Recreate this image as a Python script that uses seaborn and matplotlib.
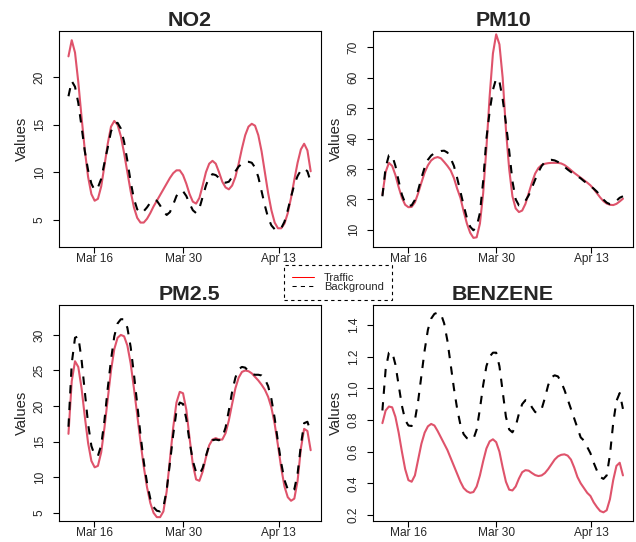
from matplotlib import pyplot as plt
from matplotlib.lines import Line2D
from matplotlib.ticker import FormatStrFormatter
import pandas as pd
import seaborn as sns
import numpy as np

# days since start of March, sampled every half day (Mar 12 .. Apr 18)
days = np.arange(12, 49.01, 0.5)

tick_pos = [15.95, 29.55, 44.15]
tick_labels = ['Mar 16', 'Mar 30', 'Apr 13']

no2_traffic = [
    22.2, 23.9, 22.6, 19.5, 15.8, 12.3, 9.5, 7.7, 7.0, 7.2,
    8.5, 10.7, 13.0, 14.8, 15.4, 15.0, 13.8, 12.0, 10.0, 8.0,
    6.3, 5.2, 4.7, 4.7, 5.1, 5.7, 6.4, 7.0, 7.6, 8.2,
    8.8, 9.4, 9.9, 10.2, 10.2, 9.7, 8.8, 7.7, 6.9, 6.7,
    7.3, 8.6, 10.0, 10.9, 11.2, 10.9, 10.0, 9.0, 8.4, 8.2,
    8.6, 9.5, 10.9, 12.5, 13.9, 14.8, 15.1, 14.9, 13.9, 12.2,
    10.0, 7.8, 6.0, 4.7, 4.1, 4.1, 4.6, 5.7, 7.3, 9.2,
    11.0, 12.4, 13.0, 12.3, 10.1]
no2_background = [
    18.0, 19.6, 19.0, 17.3, 14.8, 12.2, 10.2, 8.8, 8.1, 8.4,
    9.3, 11.0, 12.6, 14.3, 15.1, 15.2, 14.6, 13.2, 11.2, 9.0,
    7.2, 6.1, 5.7, 5.9, 6.3, 6.8, 7.1, 7.0, 6.5, 5.9,
    5.5, 5.8, 6.6, 7.5, 8.0, 8.0, 7.5, 6.7, 6.0, 5.7,
    6.2, 7.4, 8.6, 9.5, 9.8, 9.7, 9.4, 9.0, 8.9, 9.0,
    9.5, 10.1, 10.6, 10.9, 11.1, 11.1, 11.0, 10.5, 9.5, 8.0,
    6.5, 5.2, 4.4, 4.0, 3.9, 4.1, 4.8, 6.0, 7.4, 8.7,
    9.6, 10.2, 10.4, 10.1, 9.0]

pm10_traffic = [
    21.5, 29.0, 32.0, 31.0, 28.0, 24.0, 20.5, 18.2, 17.4, 17.5,
    19.0, 22.0, 25.5, 28.8, 31.2, 32.8, 33.6, 33.9, 33.5, 32.3,
    31.0, 29.5, 27.0, 23.5, 20.5, 16.0, 12.0, 9.0, 7.3, 7.5,
    12.0, 22.0, 37.0, 54.0, 68.0, 74.3, 71.0, 60.0, 43.0, 30.0,
    21.0, 17.0, 15.8, 16.3, 18.5, 22.0, 25.5, 28.5, 30.3, 31.3,
    31.7, 31.9, 32.0, 32.0, 32.0, 31.8, 31.3, 30.5, 29.6, 28.7,
    27.9, 27.1, 26.3, 25.5, 24.6, 23.4, 22.0, 20.6, 19.4, 18.6,
    18.2, 18.1, 18.5, 19.3, 20.2]
pm10_background = [
    21.0, 30.5, 34.5, 34.5, 31.0, 26.0, 21.5, 18.8, 17.9, 18.0,
    19.8, 23.0, 27.0, 30.5, 33.0, 34.4, 35.2, 35.6, 35.9, 36.0,
    35.4, 33.5, 31.0, 27.0, 22.5, 18.0, 13.8, 11.0, 9.8, 11.0,
    15.5, 26.0, 40.0, 49.0, 56.0, 59.8, 58.8, 53.0, 45.0, 36.0,
    26.0, 20.0, 18.0, 18.3, 19.5, 21.3, 23.8, 26.5, 29.0, 31.0,
    32.3, 32.9, 33.0, 32.8, 32.3, 31.5, 30.7, 29.8, 29.0, 28.3,
    27.6, 26.9, 26.0, 25.2, 24.4, 23.5, 22.5, 21.2, 19.9, 18.9,
    18.4, 18.6, 19.5, 20.5, 21.0]

pm25_traffic = [
    16.1, 23.5, 26.3, 25.5, 22.5, 18.5, 14.8, 12.3, 11.4, 11.6,
    13.5, 17.0, 21.0, 25.0, 28.0, 29.6, 30.0, 29.8, 28.5, 26.0,
    22.5, 18.8, 15.0, 11.5, 8.6, 6.4, 5.0, 4.4, 4.4, 5.2,
    8.0, 12.5, 17.0, 20.5, 22.0, 21.8, 19.5, 15.5, 11.8, 9.7,
    9.5, 10.8, 12.8, 14.5, 15.3, 15.5, 15.3, 15.3, 16.2, 18.0,
    20.3, 22.5, 24.0, 24.8, 25.0, 24.9, 24.6, 24.1, 23.6, 23.0,
    22.3, 21.3, 19.8, 17.5, 14.5, 11.3, 8.7, 7.2, 6.7, 7.0,
    9.5, 14.0, 16.8, 16.5, 13.8]
pm25_background = [
    17.1, 26.0, 29.6, 29.8, 26.5, 22.0, 17.5, 14.4, 13.1, 13.0,
    14.5, 18.0, 22.5, 26.5, 29.8, 31.6, 32.2, 32.2, 31.0, 28.3,
    24.5, 20.3, 16.0, 12.2, 9.2, 7.0, 5.8, 5.3, 5.2, 5.8,
    8.2, 12.0, 16.0, 19.3, 20.5, 20.3, 18.2, 15.0, 12.3, 10.7,
    10.4, 11.3, 13.0, 14.5, 15.2, 15.3, 15.2, 15.6, 17.0, 19.4,
    22.0, 24.0, 25.2, 25.5, 25.4, 24.9, 24.5, 24.4, 24.4, 24.3,
    23.8, 22.8, 21.0, 18.3, 15.0, 12.0, 9.6, 8.3, 8.0, 8.3,
    10.5, 14.5, 17.6, 17.8, 16.4]

benzene_traffic = [
    0.78, 0.86, 0.885, 0.88, 0.82, 0.72, 0.60, 0.49, 0.42, 0.41,
    0.45, 0.55, 0.65, 0.72, 0.76, 0.775, 0.765, 0.73, 0.69, 0.65,
    0.61, 0.56, 0.51, 0.46, 0.41, 0.37, 0.35, 0.34, 0.345, 0.38,
    0.45, 0.54, 0.62, 0.665, 0.678, 0.66, 0.60, 0.50, 0.41, 0.36,
    0.355, 0.38, 0.43, 0.47, 0.483, 0.48, 0.465, 0.452, 0.446, 0.45,
    0.465, 0.49, 0.52, 0.55, 0.57, 0.58, 0.583, 0.575, 0.55, 0.50,
    0.44, 0.40, 0.37, 0.34, 0.32, 0.28, 0.25, 0.225, 0.217, 0.23,
    0.30, 0.42, 0.51, 0.53, 0.45]
benzene_background = [
    0.86, 1.12, 1.225, 1.23, 1.15, 1.02, 0.89, 0.80, 0.765, 0.762,
    0.80, 0.92, 1.08, 1.24, 1.37, 1.44, 1.47, 1.478, 1.47, 1.41,
    1.30, 1.15, 1.00, 0.87, 0.77, 0.71, 0.685, 0.678, 0.68, 0.74,
    0.87, 1.02, 1.14, 1.20, 1.225, 1.225, 1.14, 0.98, 0.82, 0.74,
    0.722, 0.76, 0.84, 0.90, 0.925, 0.92, 0.88, 0.85, 0.846, 0.87,
    0.94, 1.02, 1.07, 1.082, 1.075, 1.04, 0.99, 0.93, 0.87, 0.81,
    0.75, 0.69, 0.67, 0.63, 0.59, 0.53, 0.48, 0.44, 0.428, 0.45,
    0.58, 0.78, 0.92, 0.97, 0.87]

RED = '#DF536B'


def plot_panel(ax, title, traffic, background, ylim, yticks, fmt=None):
    """ One pollutant: traffic (solid red) and background (dashed black). """
    sns.lineplot(x=days, y=traffic, ax=ax, color=RED, linewidth=1.5)
    sns.lineplot(x=days, y=background, ax=ax, color='black',
                 linewidth=1.5, linestyle=(0, (4, 4)))

    ax.set_xlim(10.6, 50.5)
    ax.set_ylim(*ylim)
    ax.set_xticks(tick_pos)
    ax.set_xticklabels(tick_labels)
    ax.set_yticks(yticks)
    if fmt:
        ax.yaxis.set_major_formatter(FormatStrFormatter(fmt))
    for lab in ax.get_yticklabels():
        lab.set_rotation(90)
        lab.set_va('center')

    ax.tick_params(axis='both', length=4.3, width=0.8, labelsize=8.6,
                   color='black')
    ax.tick_params(axis='x', pad=0.5)
    ax.tick_params(axis='y', pad=5.5)

    for sp in ax.spines.values():
        sp.set_visible(True)
        sp.set_color('black')
        sp.set_linewidth(0.8)

    ax.set_title(title, fontsize=15.4, fontweight='bold', pad=3.5)
    ax.set_xlabel('')
    ax.set_ylabel('Values', fontsize=10.7, labelpad=3.5)


sns.set_style('ticks')
plt.rcParams['font.family'] = ['Liberation Sans', 'DejaVu Sans']

fig = plt.figure(figsize=(6.36, 5.42), dpi=100)
W, H = 636, 542


def box(left, top, right, bottom):
    return [left / W, 1 - bottom / H, (right - left) / W, (bottom - top) / H]


ax_no2 = fig.add_axes(box(59.3, 31, 320.5, 246.7))
ax_pm10 = fig.add_axes(box(373.3, 31, 632.7, 246.7))
ax_pm25 = fig.add_axes(box(59.3, 305, 320.5, 520.7))
ax_benz = fig.add_axes(box(373.3, 305, 632.7, 520.7))

plot_panel(ax_no2, 'NO2', no2_traffic, no2_background,
           (2.16, 24.87), [5, 10, 15, 20])
plot_panel(ax_pm10, 'PM10', pm10_traffic, pm10_background,
           (4.4, 75.4), [10, 20, 30, 40, 50, 60, 70])
plot_panel(ax_pm25, 'PM2.5', pm25_traffic, pm25_background,
           (3.9, 34.2), [5, 10, 15, 20, 25, 30])
plot_panel(ax_benz, 'BENZENE', benzene_traffic, benzene_background,
           (0.164, 1.526), [0.2, 0.4, 0.6, 0.8, 1.0, 1.2, 1.4], fmt='%.1f')

# shared legend in the middle of the figure
handles = [Line2D([], [], color='red', linewidth=0.75),
           Line2D([], [], color='black', linewidth=0.75, linestyle=(0, (4, 4)))]
leg = fig.legend(handles, ['Traffic', 'Background'], loc='upper left',
                 bbox_to_anchor=(284 / W, 1 - 265 / H), fontsize=8,
                 frameon=True, fancybox=False, borderpad=0.7,
                 handlelength=2.0, handletextpad=0.9, labelspacing=-0.05,
                 borderaxespad=0)
frame = leg.get_frame()
frame.set_edgecolor('black')
frame.set_linestyle((0, (3, 3)))
frame.set_linewidth(0.8)
frame.set_facecolor('white')
frame.set_alpha(1)

fig.savefig('out.png', dpi=100)
